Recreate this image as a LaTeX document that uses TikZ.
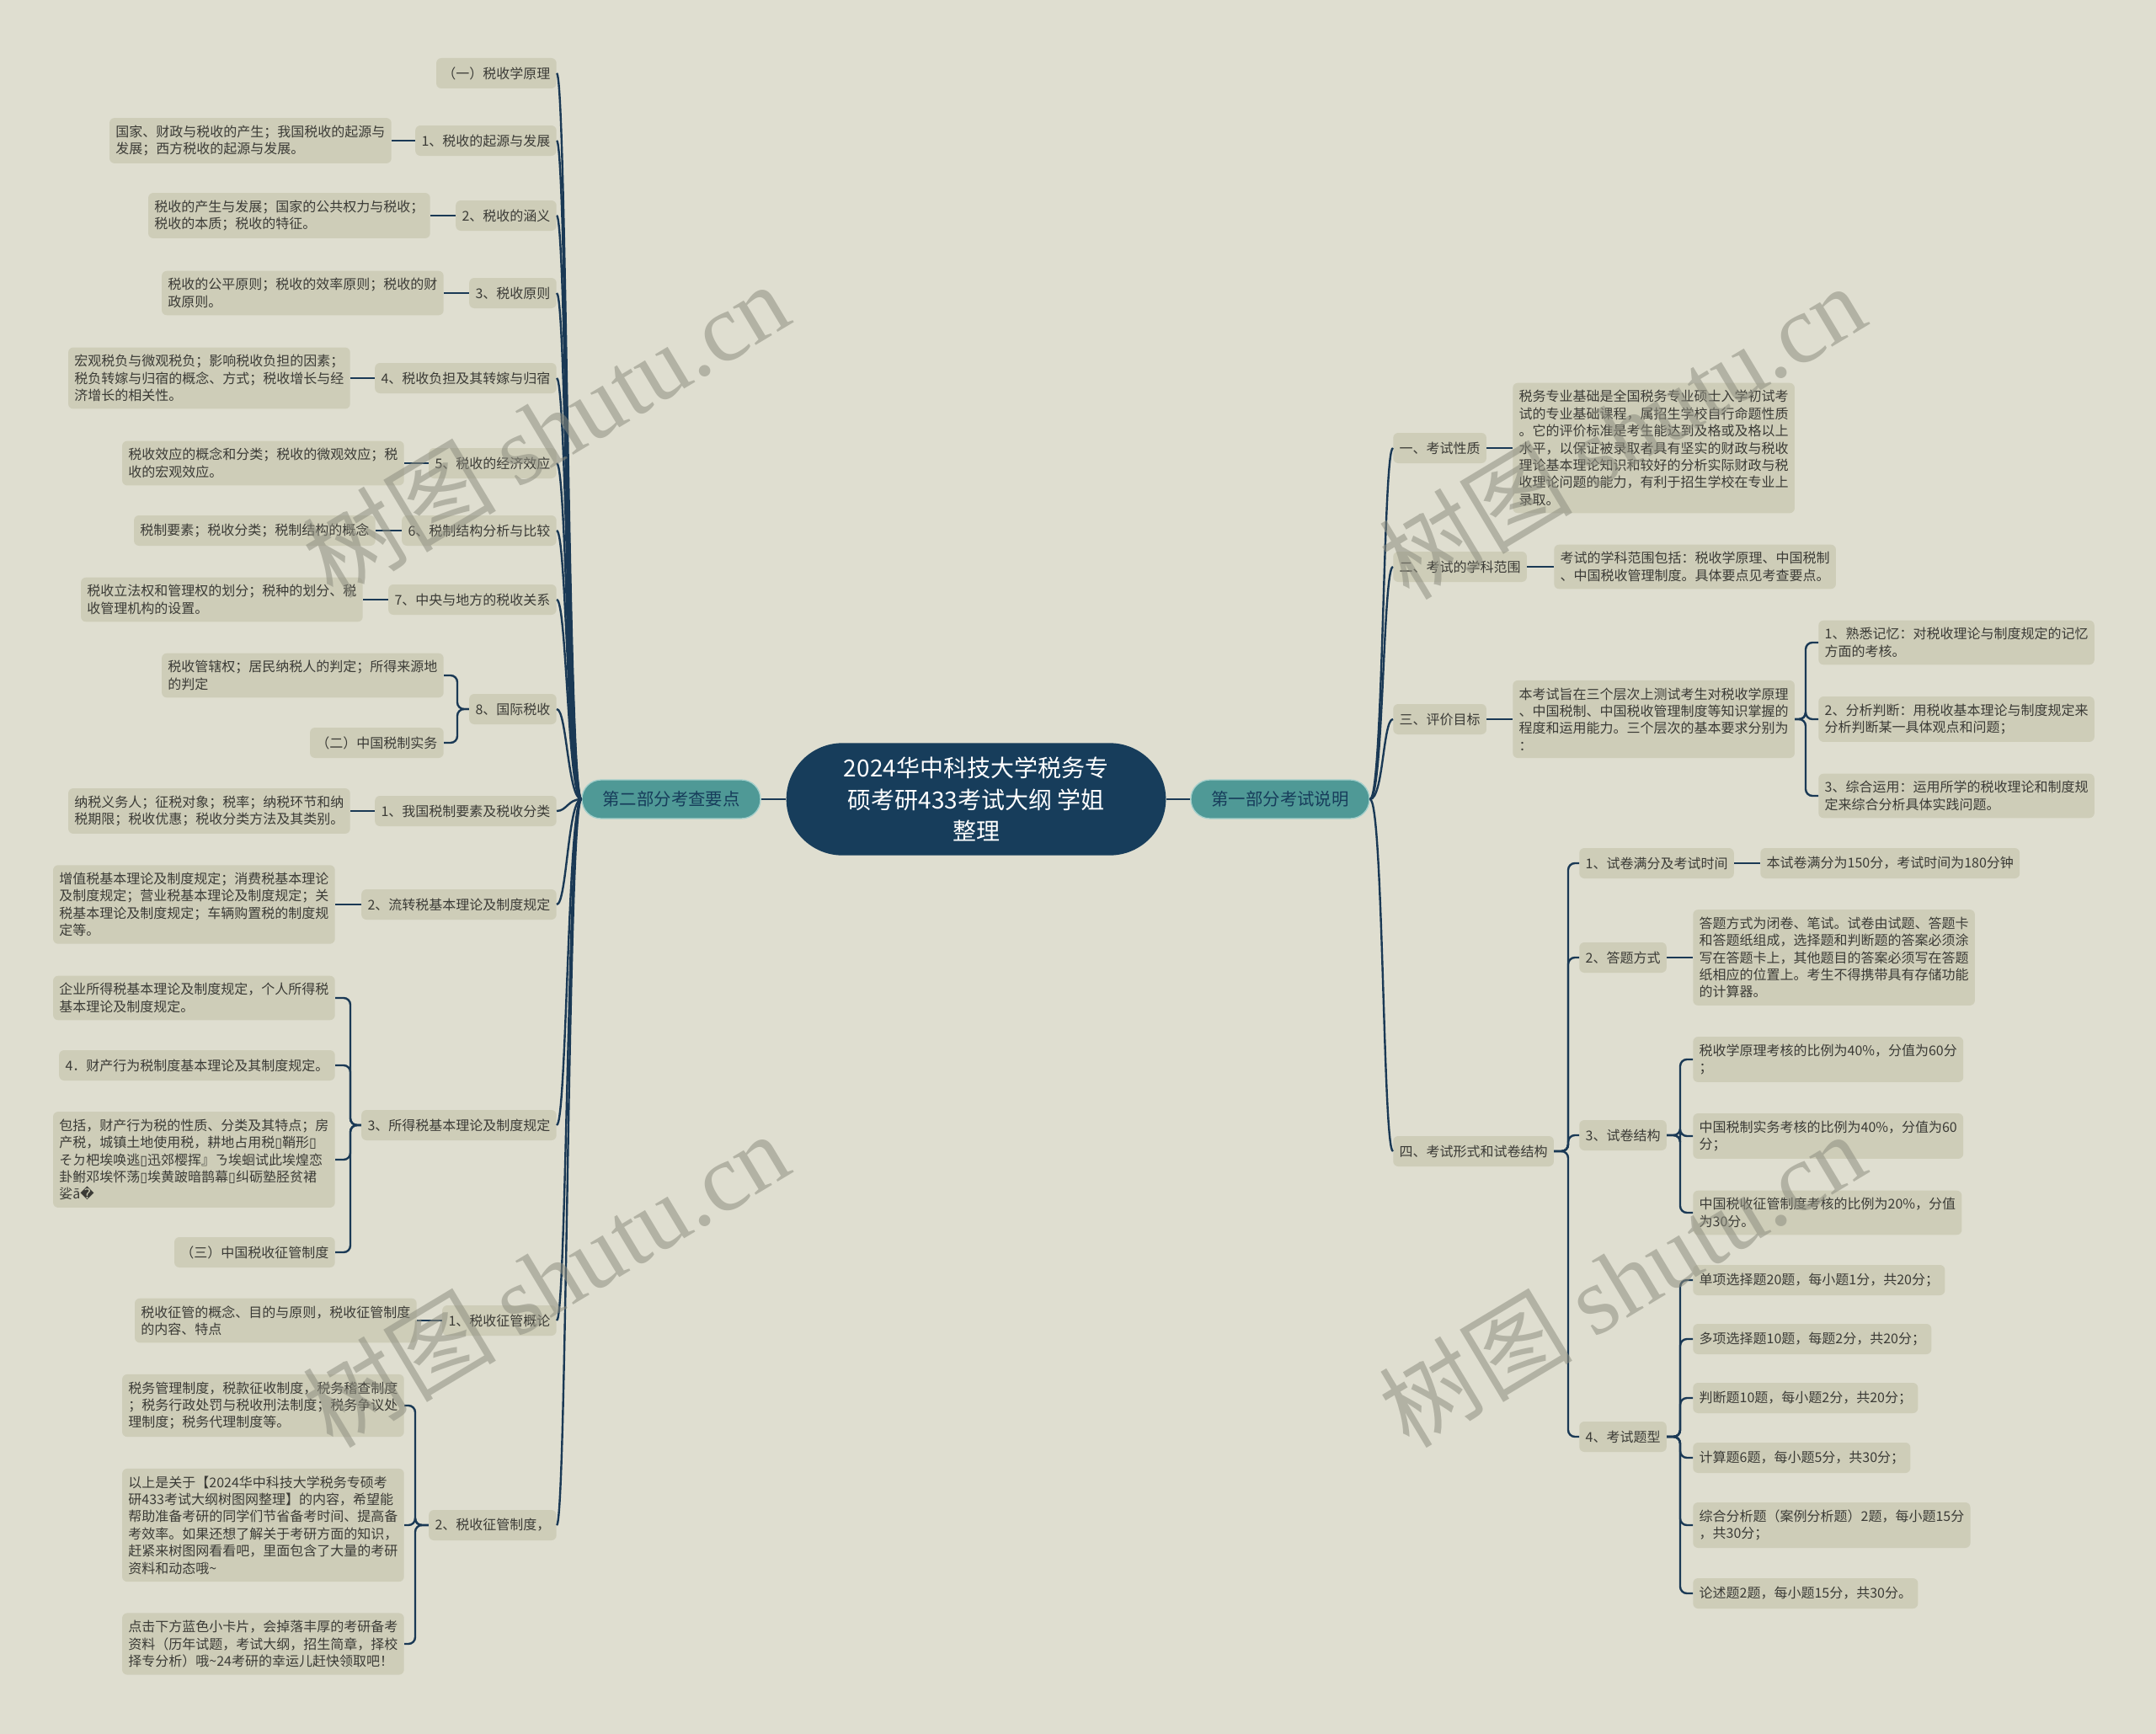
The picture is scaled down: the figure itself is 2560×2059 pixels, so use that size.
\documentclass[tikz,border=0pt]{standalone}
\usepackage{fontspec}
\setmainfont{Noto Sans CJK SC}
\newfontfamily\wmfont{Liberation Serif}
\newfontfamily\dvsans{DejaVu Sans}
\newcommand\badg{{\dvsans\char"25AF}}
\definecolor{bgc}{HTML}{DFDED0}
\definecolor{boxc}{HTML}{CECDB8}
\definecolor{rootc}{HTML}{173D5B}
\definecolor{partc}{HTML}{4F9996}
\definecolor{partb}{HTML}{A4CFCB}
\definecolor{linkc}{HTML}{1A3955}
\definecolor{txtc}{HTML}{3B3B36}
\definecolor{wmc}{HTML}{8E8E80}

\begin{document}
\begin{tikzpicture}[x=0.75pt,y=-0.75pt,
  every node/.style={font=\fontsize{12}{15.3}\selectfont,text=txtc},
  root/.style={fill=rootc,text=white,rounded corners=50pt,minimum width=338pt,minimum height=100pt,align=center,font=\fontsize{21}{28}\selectfont},
  part/.style={fill=partc,draw=partb,line width=1pt,text=rootc,rounded corners=17pt,minimum width=159pt,minimum height=34.5pt,font=\fontsize{15.3}{18}\selectfont},
  box/.style={fill=boxc,rounded corners=4.5pt,inner xsep=5.5pt,inner ysep=6.5pt,minimum height=27pt,align=left},
  lbox/.style={box,anchor=east},
  rbox/.style={box,anchor=west},
  link/.style={draw=linkc,line width=1.8pt},
  brk/.style={link,rounded corners=6pt},
  wmark/.style={text=wmc,opacity=0.55,rotate=31,font=\fontsize{86}{86}\selectfont}]
\fill[bgc] (0,0) rectangle (2560,2059);
\useasboundingbox (0,0) rectangle (2560,2059);

% centre and the two parts
\node[root] (root) at (1159,949) {2024华中科技大学税务专\\硕考研433考试大纲 学姐\\整理};
\node[part] (p1) at (1520,949) {第一部分考试说明};
\node[part] (p2) at (797,949) {第二部分考查要点};
\draw[link] (root) -- (p1);
\draw[link] (root) -- (p2);

% right side: 第一部分考试说明
\node[rbox] (r1) at (1654,532) {一、考试性质};
\node[rbox] (r1c) at (1796,532) {税务专业基础是全国税务专业硕士入学初试考\\试的专业基础课程，属招生学校自行命题性质\\。它的评价标准是考生能达到及格或及格以上\\水平，以保证被录取者具有坚实的财政与税收\\理论基本理论知识和较好的分析实际财政与税\\收理论问题的能力，有利于招生学校在专业上\\录取。};
\node[rbox] (r2) at (1654,673) {二、考试的学科范围};
\node[rbox] (r2c) at (1845,673) {考试的学科范围包括：税收学原理、中国税制\\、中国税收管理制度。具体要点见考查要点。};
\node[rbox] (r3) at (1654,854) {三、评价目标};
\node[rbox] (r3c) at (1796,854) {本考试旨在三个层次上测试考生对税收学原理\\、中国税制、中国税收管理制度等知识掌握的\\程度和运用能力。三个层次的基本要求分别为\\：};
\node[rbox] (r3a) at (2159,763) {1、熟悉记忆：对税收理论与制度规定的记忆\\方面的考核。};
\node[rbox] (r3b) at (2159,854) {2、分析判断：用税收基本理论与制度规定来\\分析判断某一具体观点和问题；};
\node[rbox] (r3d) at (2159,945) {3、综合运用：运用所学的税收理论和制度规\\定来综合分析具体实践问题。};
\node[rbox] (r4) at (1654,1367) {四、考试形式和试卷结构};
\node[rbox] (s1) at (1875,1025) {1、试卷满分及考试时间};
\node[rbox] (s1c) at (2090,1025) {本试卷满分为150分，考试时间为180分钟};
\node[rbox] (s2) at (1875,1137) {2、答题方式};
\node[rbox] (s2c) at (2010,1137) {答题方式为闭卷、笔试。试卷由试题、答题卡\\和答题纸组成，选择题和判断题的答案必须涂\\写在答题卡上，其他题目的答案必须写在答题\\纸相应的位置上。考生不得携带具有存储功能\\的计算器。};
\node[rbox] (s3) at (1875,1348) {3、试卷结构};
\node[rbox] (s3a) at (2010,1258) {税收学原理考核的比例为40\%，分值为60分\\；};
\node[rbox] (s3b) at (2010,1349) {中国税制实务考核的比例为40\%，分值为60\\分；};
\node[rbox] (s3c) at (2010,1440) {中国税收征管制度考核的比例为20\%，分值\\为30分。};
\node[rbox] (s4) at (1875,1706) {4、考试题型};
\node[rbox] (s4a) at (2010,1520) {单项选择题20题，每小题1分，共20分；};
\node[rbox] (s4b) at (2010,1590) {多项选择题10题，每题2分，共20分；};
\node[rbox] (s4c) at (2010,1660) {判断题10题，每小题2分，共20分；};
\node[rbox] (s4d) at (2010,1731) {计算题6题，每小题5分，共30分；};
\node[rbox] (s4e) at (2010,1811) {综合分析题（案例分析题）2题，每小题15分\\，共30分；};
\node[rbox] (s4f) at (2010,1892) {论述题2题，每小题15分，共30分。};

\draw[link] (p1.east) .. controls +(16,0) and +(-12,0) .. (r1.west);
\draw[link] (p1.east) .. controls +(16,0) and +(-12,0) .. (r2.west);
\draw[link] (p1.east) .. controls +(16,0) and +(-12,0) .. (r3.west);
\draw[link] (p1.east) .. controls +(16,0) and +(-12,0) .. (r4.west);
\draw[link] (r1.east) -- (r1c.west);
\draw[link] (r2.east) -- (r2c.west);
\draw[link] (r3.east) -- (r3c.west);
\draw[brk] (r3a.west) -- ++(-15,0) |- (r3c.east);
\draw[brk] (r3b.west) -- ++(-15,0) |- (r3c.east);
\draw[brk] (r3d.west) -- ++(-15,0) |- (r3c.east);
\draw[brk] (s1.west) -- ++(-13,0) |- (r4.east);
\draw[brk] (s2.west) -- ++(-13,0) |- (r4.east);
\draw[brk] (s3.west) -- ++(-13,0) |- (r4.east);
\draw[brk] (s4.west) -- ++(-13,0) |- (r4.east);
\draw[link] (s1.east) -- (s1c.west);
\draw[link] (s2.east) -- (s2c.west);
\draw[brk] (s3a.west) -- ++(-15,0) |- (s3.east);
\draw[brk] (s3b.west) -- ++(-15,0) |- (s3.east);
\draw[brk] (s3c.west) -- ++(-15,0) |- (s3.east);
\draw[brk] (s4a.west) -- ++(-15,0) |- (s4.east);
\draw[brk] (s4b.west) -- ++(-15,0) |- (s4.east);
\draw[brk] (s4c.west) -- ++(-15,0) |- (s4.east);
\draw[brk] (s4d.west) -- ++(-15,0) |- (s4.east);
\draw[brk] (s4e.west) -- ++(-15,0) |- (s4.east);
\draw[brk] (s4f.west) -- ++(-15,0) |- (s4.east);

% left side: 第二部分考查要点
\node[lbox] (l0) at (661,87) {（一）税收学原理};
\node[lbox] (l1) at (661,167) {1、税收的起源与发展};
\node[lbox] (l1c) at (465,167) {国家、财政与税收的产生；我国税收的起源与\\发展；西方税收的起源与发展。};
\node[lbox] (l2) at (661,256) {2、税收的涵义};
\node[lbox] (l2c) at (511,256) {税收的产生与发展；国家的公共权力与税收；\\税收的本质；税收的特征。};
\node[lbox] (l3) at (661,348) {3、税收原则};
\node[lbox] (l3c) at (527,348) {税收的公平原则；税收的效率原则；税收的财\\政原则。};
\node[lbox] (l4) at (661,449) {4、税收负担及其转嫁与归宿};
\node[lbox] (l4c) at (416,449) {宏观税负与微观税负；影响税收负担的因素；\\税负转嫁与归宿的概念、方式；税收增长与经\\济增长的相关性。};
\node[lbox] (l5) at (661,550) {5、税收的经济效应};
\node[lbox] (l5c) at (480,550) {税收效应的概念和分类；税收的微观效应；税\\收的宏观效应。};
\node[lbox] (l6) at (661,630) {6、税制结构分析与比较};
\node[lbox] (l6c) at (446,630) {税制要素；税收分类；税制结构的概念};
\node[lbox] (l7) at (661,712) {7、中央与地方的税收关系};
\node[lbox] (l7c) at (431,712) {税收立法权和管理权的划分；税种的划分、税\\收管理机构的设置。};
\node[lbox] (l8) at (661,842) {8、国际税收};
\node[lbox] (l8a) at (527,802) {税收管辖权；居民纳税人的判定；所得来源地\\的判定};
\node[lbox] (l8b) at (527,882) {（二）中国税制实务};
\node[lbox] (l9) at (661,963) {1、我国税制要素及税收分类};
\node[lbox] (l9c) at (416,963) {纳税义务人；征税对象；税率；纳税环节和纳\\税期限；税收优惠；税收分类方法及其类别。};
\node[lbox] (l10) at (661,1074) {2、流转税基本理论及制度规定};
\node[lbox] (l10c) at (398,1074) {增值税基本理论及制度规定；消费税基本理论\\及制度规定；营业税基本理论及制度规定；关\\税基本理论及制度规定；车辆购置税的制度规\\定等。};
\node[lbox] (l11) at (661,1336) {3、所得税基本理论及制度规定};
\node[lbox] (l11a) at (398,1185) {企业所得税基本理论及制度规定，个人所得税\\基本理论及制度规定。};
\node[lbox] (l11b) at (398,1265) {4．财产行为税制度基本理论及其制度规定。};
\node[lbox] (l11c) at (398,1377) {包括，财产行为税的性质、分类及其特点；房\\产税，城镇土地使用税，耕地占用税\badg 鞘形\badg\\そㄉ杷埃唤逃\badg 迅郊樱挥』ㄋ埃蛔试此埃煌恋\\卦鲋邓埃怀荡\badg 埃黄跛暗鹊幕\badg 纠砺塾胫贫裙\\娑ā{\dvsans\char"FFFD}};
\node[lbox] (l11d) at (398,1487) {（三）中国税收征管制度};
\node[lbox] (l12) at (661,1568) {1、税收征管概论};
\node[lbox] (l12c) at (495,1568) {税收征管的概念、目的与原则，税收征管制度\\的内容、特点};
\node[lbox] (l13) at (661,1811) {2、税收征管制度，};
\node[lbox] (l13a) at (480,1669) {税务管理制度，税款征收制度，税务稽查制度\\；税务行政处罚与税收刑法制度；税务争议处\\理制度；税务代理制度等。};
\node[lbox] (l13b) at (480,1811) {以上是关于【2024华中科技大学税务专硕考\\研433考试大纲树图网整理】的内容，希望能\\帮助准备考研的同学们节省备考时间、提高备\\考效率。如果还想了解关于考研方面的知识，\\赶紧来树图网看看吧，里面包含了大量的考研\\资料和动态哦\textasciitilde};
\node[lbox] (l13c) at (480,1952) {点击下方蓝色小卡片，会掉落丰厚的考研备考\\资料（历年试题，考试大纲，招生简章，择校\\择专分析）哦\textasciitilde 24考研的幸运儿赶快领取吧！};

\draw[link] (p2.west) .. controls +(-16,0) and +(12,0) .. (l0.east);
\draw[link] (p2.west) .. controls +(-16,0) and +(12,0) .. (l1.east);
\draw[link] (p2.west) .. controls +(-16,0) and +(12,0) .. (l2.east);
\draw[link] (p2.west) .. controls +(-16,0) and +(12,0) .. (l3.east);
\draw[link] (p2.west) .. controls +(-16,0) and +(12,0) .. (l4.east);
\draw[link] (p2.west) .. controls +(-16,0) and +(12,0) .. (l5.east);
\draw[link] (p2.west) .. controls +(-16,0) and +(12,0) .. (l6.east);
\draw[link] (p2.west) .. controls +(-16,0) and +(12,0) .. (l7.east);
\draw[link] (p2.west) .. controls +(-16,0) and +(12,0) .. (l8.east);
\draw[link] (p2.west) .. controls +(-16,0) and +(12,0) .. (l9.east);
\draw[link] (p2.west) .. controls +(-16,0) and +(12,0) .. (l10.east);
\draw[link] (p2.west) .. controls +(-16,0) and +(12,0) .. (l11.east);
\draw[link] (p2.west) .. controls +(-16,0) and +(12,0) .. (l12.east);
\draw[link] (p2.west) .. controls +(-16,0) and +(12,0) .. (l13.east);
\draw[link] (l1.west) -- (l1c.east);
\draw[link] (l2.west) -- (l2c.east);
\draw[link] (l3.west) -- (l3c.east);
\draw[link] (l4.west) -- (l4c.east);
\draw[link] (l5.west) -- (l5c.east);
\draw[link] (l6.west) -- (l6c.east);
\draw[link] (l7.west) -- (l7c.east);
\draw[brk] (l8a.east) -- ++(16,0) |- (l8.west);
\draw[brk] (l8b.east) -- ++(16,0) |- (l8.west);
\draw[link] (l9.west) -- (l9c.east);
\draw[link] (l10.west) -- (l10c.east);
\draw[brk] (l11a.east) -- ++(18,0) |- (l11.west);
\draw[brk] (l11b.east) -- ++(18,0) |- (l11.west);
\draw[brk] (l11c.east) -- ++(18,0) |- (l11.west);
\draw[brk] (l11d.east) -- ++(18,0) |- (l11.west);
\draw[link] (l12.west) -- (l12c.east);
\draw[brk] (l13a.east) -- ++(13,0) |- (l13.west);
\draw[brk] (l13b.east) -- ++(13,0) |- (l13.west);
\draw[brk] (l13c.east) -- ++(13,0) |- (l13.west);

% watermarks
\node[wmark] (w1) at (648,510) {树图 {\wmfont shutu.cn}};
\node[wmark] (w2) at (1926,512) {树图 {\wmfont shutu.cn}};
\node[wmark] (w3) at (648,1519) {树图 {\wmfont shutu.cn}};
\node[wmark] (w4) at (1926,1519) {树图 {\wmfont shutu.cn}};
\end{tikzpicture}
\end{document}
